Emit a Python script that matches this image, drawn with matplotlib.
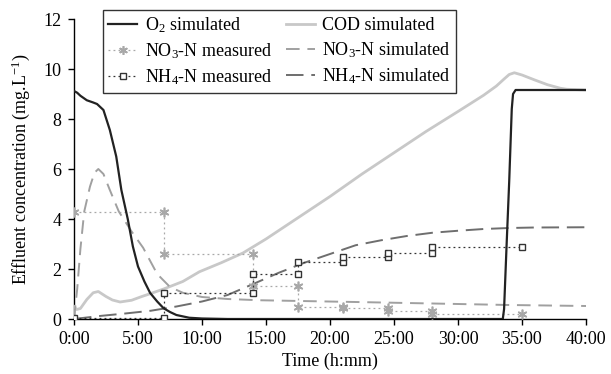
import numpy as np
import matplotlib
matplotlib.use("Agg")
import matplotlib.pyplot as plt
from matplotlib.ticker import FuncFormatter

plt.rcParams['font.family'] = ['Liberation Serif', 'DejaVu Serif']
plt.rcParams['mathtext.fontset'] = 'custom'
plt.rcParams['mathtext.rm'] = 'Liberation Serif'
plt.rcParams['mathtext.it'] = 'Liberation Serif:italic'
plt.rcParams['mathtext.bf'] = 'Liberation Serif:bold'

# ---- data (hours, mg/L) ----
o2_t = [0, 0.25, 0.5, 1.0, 1.5, 1.8, 2.3, 2.8, 3.3, 3.7, 4.2, 4.6, 5.0, 5.5, 5.95,
        6.5, 7.0, 7.5, 8.0, 9.0, 10.0, 12.0, 33.5, 33.6, 33.8, 34.0, 34.2, 34.3, 34.5, 40]
o2_v = [9.12, 9.05, 8.93, 8.75, 8.66, 8.6, 8.36, 7.56, 6.5, 5.16, 4.0, 2.9, 2.1, 1.5, 1.04,
        0.7, 0.43, 0.28, 0.16, 0.05, 0.02, 0.0, 0.0, 0.4, 3.0, 5.5, 8.4, 9.0, 9.16, 9.16]

cod_t = [0, 0.2, 0.5, 1.0, 1.5, 1.9, 2.5, 3.0, 3.6, 4.5, 5.3, 6.0, 7.0, 8.5, 9.8, 11.5,
         13.2, 15, 17.5, 20, 22.5, 25, 27.5, 30, 32, 33, 33.6, 34.0, 34.4, 35, 36, 37, 38, 38.5, 40]
cod_v = [0.5, 0.38, 0.42, 0.78, 1.05, 1.1, 0.9, 0.76, 0.68, 0.75, 0.9, 1.02, 1.2, 1.5, 1.89, 2.25,
         2.64, 3.2, 4.05, 4.9, 5.8, 6.65, 7.5, 8.3, 8.95, 9.32, 9.6, 9.78, 9.85, 9.76, 9.56, 9.37,
         9.23, 9.19, 9.16]

no3s_t = [0, 0.25, 0.5, 0.8, 1.25, 1.6, 1.9, 2.3, 2.8, 3.5, 4.5, 5.4, 6.5, 7.5, 8.5, 10,
          12, 14.5, 22, 30, 34, 40]
no3s_v = [0.0, 1.2, 2.8, 4.3, 5.3, 5.85, 6.0, 5.8, 5.16, 4.3, 3.5, 2.85, 1.8, 1.28, 1.05, 0.88,
          0.8, 0.75, 0.68, 0.6, 0.56, 0.52]

nh4s_t = [0, 2, 4, 6, 8, 10, 12, 14, 16, 18, 20, 22, 24, 26, 28, 30, 32, 34, 36, 40]
nh4s_v = [0.0, 0.12, 0.22, 0.33, 0.5, 0.7, 0.96, 1.4, 1.85, 2.25, 2.6, 2.95, 3.15, 3.32,
          3.45, 3.53, 3.6, 3.64, 3.66, 3.67]

meas_t = [0, 7, 14, 17.5, 21, 24.5, 28, 35]
no3_meas = [4.3, 2.62, 1.32, 0.47, 0.43, 0.33, 0.22]
nh4_meas = [0.04, 1.04, 1.8, 2.28, 2.47, 2.65, 2.89]

xticks = [0, 5, 10, 15, 20, 25, 30, 35, 40]
yticks = [0, 2, 4, 6, 8, 10, 12]


def step_series(times, vals):
    xs, ys = [], []
    for i, v in enumerate(vals):
        xs += [times[i], times[i + 1]]
        ys += [v, v]
    return xs, ys


fig = plt.figure(figsize=(6.11, 3.74), dpi=100)
ax = fig.add_axes([74 / 611, 1 - 319 / 374, 512 / 611, 300 / 374])

l_o2, = ax.plot(o2_t, o2_v, color='#222222', lw=1.6, label='O$_2$ simulated', zorder=5)
l_cod, = ax.plot(cod_t, cod_v, color='#c8c8c8', lw=2.0, label='COD simulated', zorder=3)
l_no3s, = ax.plot(no3s_t, no3s_v, color='#a0a0a0', lw=1.4, dashes=(7, 4),
                  label='NO$_3$-N simulated', zorder=3)
l_nh4s, = ax.plot(nh4s_t, nh4s_v, color='#6e6e6e', lw=1.4, dashes=(9, 4),
                  label='NH$_4$-N simulated', zorder=3)

xs, ys = step_series(meas_t, no3_meas)
l_no3m, = ax.plot(xs, ys, color='#a8a8a8', lw=0.9, ls=(0, (1.5, 2.5)),
                  marker=(6, 2, 0), ms=7, mew=1.2, label='NO$_3$-N measured', zorder=4)
xs, ys = step_series(meas_t, nh4_meas)
l_nh4m, = ax.plot(xs, ys, color='#333333', lw=0.9, ls=(0, (1.5, 2.5)),
                  marker='s', ms=5, mfc='white', mec='#333333', mew=1.0,
                  label='NH$_4$-N measured', zorder=4)

ax.set_xlim(0, 40)
ax.set_ylim(0, 12)
ax.set_xticks(xticks)
ax.set_yticks(yticks)
ax.xaxis.set_major_formatter(FuncFormatter(lambda v, p: f"{int(v)}:00"))
for s in ['top', 'right']:
    ax.spines[s].set_visible(False)
for s in ['left', 'bottom']:
    ax.spines[s].set_linewidth(1.0)
ax.tick_params(direction='out', length=4, width=1.0, labelsize=13, colors='black', pad=5)
ax.set_xlabel('Time (h:mm)', fontsize=13, labelpad=3)
ax.set_ylabel('Effluent concentration (mg.L$^{-1}$)', fontsize=13, labelpad=8)

handles = [l_o2, l_no3m, l_nh4m, l_cod, l_no3s, l_nh4s]
leg = fig.legend(handles=handles, labels=[h.get_label() for h in handles], ncol=2,
                 loc='upper left', bbox_to_anchor=(103 / 611, 1 - 10 / 374),
                 fontsize=13, frameon=True, fancybox=False, edgecolor='black',
                 handlelength=1.6, handletextpad=0.4, columnspacing=0.8,
                 labelspacing=0.35, borderpad=0.3, borderaxespad=0, markerscale=0.9)
leg.get_frame().set_linewidth(1.0)
leg.set_zorder(10)

fig.savefig('out.png', dpi=100)
